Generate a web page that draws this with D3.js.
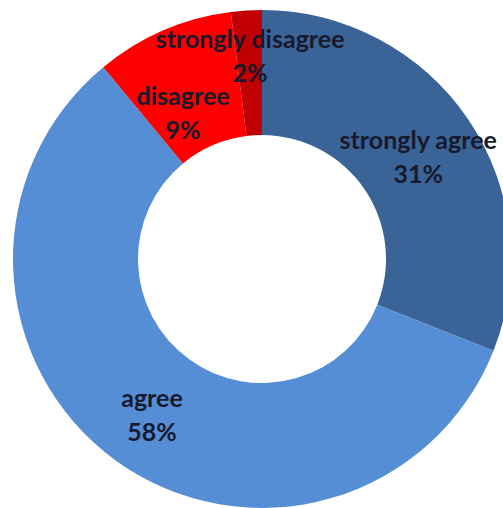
<!DOCTYPE html>
<html>
<head>
<meta charset="utf-8">
<script src="https://cdn.jsdelivr.net/npm/d3@7/dist/d3.min.js"></script>
<style>
  html, body { margin: 0; padding: 0; background: #ffffff; }
  svg { display: block; }
</style>
</head>
<body>
<svg id="chart" width="503" height="508"></svg>
<script>
// Survey response shares (percent)
const categories = ["strongly agree", "agree", "disagree", "strongly disagree"];
const values = [31, 58, 9, 2];
const colors = ["#3a6398", "#558ed5", "#ff0000", "#c00000"];

const cx = 262, cy = 259;
const outerR = 249, innerR = 124;

const svg = d3.select("#chart");
const g = svg.append("g").attr("transform", `translate(${cx},${cy})`);

const pie = d3.pie().sort(null).value(d => d)
  .startAngle(0).endAngle(2 * Math.PI);
const arcs = pie(values);

const arc = d3.arc().innerRadius(innerR).outerRadius(outerR);

g.selectAll("path.slice")
  .data(arcs)
  .join("path")
  .attr("class", "slice")
  .attr("d", arc)
  .attr("fill", (d, i) => colors[i]);

// Label anchor per slice: fraction along the slice's angle span and distance from centre
const labelPos = [
  { t: 0.512, r: 186 },
  { t: 0.495, r: 192 },
  { t: 0.34, r: 165 },
  { t: 0.53, r: 202 }
];

const fontSize = 25;
const lineGap = 34;

arcs.forEach((d, i) => {
  const p = labelPos[i];
  const a = d.startAngle + (d.endAngle - d.startAngle) * p.t;
  const x = Math.sin(a) * p.r;
  const y = -Math.cos(a) * p.r;
  const t = g.append("text")
    .attr("text-anchor", "middle")
    .attr("font-family", "Lato, 'Open Sans', sans-serif")
    .attr("font-weight", 700)
    .attr("font-size", fontSize)
    .attr("fill", "#161a2c");
  t.append("tspan").attr("x", x).attr("y", y - 9).text(categories[i]);
  t.append("tspan").attr("x", x).attr("y", y - 9 + lineGap).text(values[i] + "%");
});
</script>
</body>
</html>
